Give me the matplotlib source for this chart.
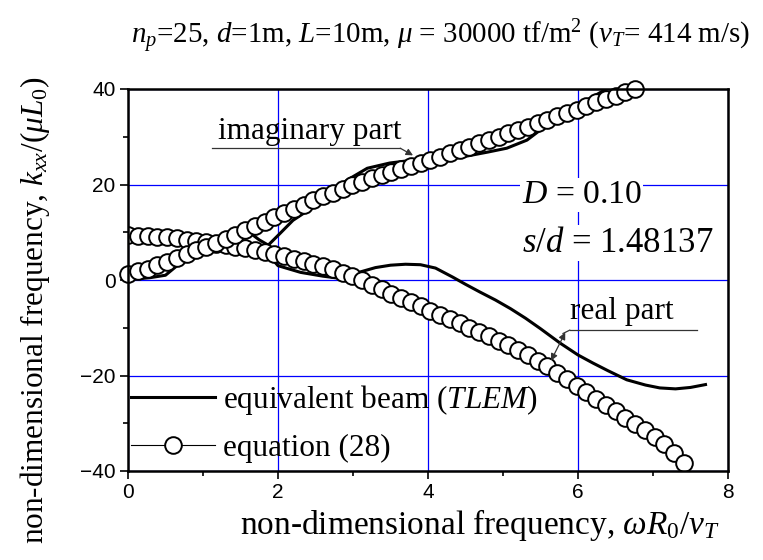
import matplotlib
matplotlib.use("Agg")
import matplotlib.pyplot as plt
from matplotlib.ticker import MultipleLocator

plt.rcParams['font.family'] = ['Liberation Serif', 'DejaVu Serif']
plt.rcParams['mathtext.fontset'] = 'custom'
plt.rcParams['mathtext.rm'] = 'Liberation Serif'
plt.rcParams['mathtext.it'] = 'Liberation Serif:italic'
plt.rcParams['mathtext.bf'] = 'Liberation Serif:bold'

# ---- data: equation (28) (circles) ----
eq_real_x = [0.00, 0.13, 0.26, 0.39, 0.52, 0.65, 0.78, 0.91, 1.04, 1.17, 1.30, 1.43,
             1.56, 1.69, 1.82, 1.95, 2.08, 2.21, 2.34, 2.47, 2.60, 2.73, 2.86, 2.99,
             3.12, 3.25, 3.38, 3.51, 3.64, 3.77, 3.90, 4.03, 4.16, 4.29, 4.42, 4.55,
             4.68, 4.81, 4.94, 5.07, 5.20, 5.33, 5.46, 5.59, 5.72, 5.85, 5.98, 6.11,
             6.24, 6.37, 6.50, 6.63, 6.76, 6.89, 7.02, 7.15, 7.28, 7.41]
eq_real_y = [9.4, 9.3, 9.2, 9.1, 9.0, 8.7, 8.45, 8.2, 7.9, 7.6, 7.3, 7.0,
             6.65, 6.25, 5.85, 5.45, 5.0, 4.5, 4.0, 3.45, 2.85, 2.2, 1.5, 0.75,
             -0.1, -1.0, -1.9, -2.85, -3.75, -4.65, -5.5, -6.4, -7.3, -8.2, -9.05, -9.95,
             -10.85, -11.8, -12.75, -13.7, -14.7, -15.8, -16.9, -18.1, -19.4, -20.8, -22.2, -23.5,
             -24.9, -26.2, -27.5, -28.8, -30.1, -31.4, -32.9, -34.4, -36.2, -38.3]

eq_imag_x = [0.00, 0.13, 0.26, 0.39, 0.52, 0.65, 0.78, 0.91, 1.04, 1.17, 1.30, 1.43,
             1.56, 1.69, 1.82, 1.95, 2.08, 2.21, 2.34, 2.47, 2.60, 2.73, 2.86, 2.99,
             3.12, 3.25, 3.38, 3.51, 3.64, 3.77, 3.90, 4.03, 4.16, 4.29, 4.42, 4.55,
             4.68, 4.81, 4.94, 5.07, 5.20, 5.33, 5.46, 5.59, 5.72, 5.85, 5.98, 6.11,
             6.24, 6.37, 6.50, 6.63, 6.76]
eq_imag_y = [1.3, 1.8, 2.4, 3.1, 3.8, 4.6, 5.4, 6.2, 7.0, 7.8, 8.6, 9.5,
             10.4, 11.3, 12.2, 13.1, 14.0, 14.9, 15.8, 16.7, 17.5, 18.3, 19.1, 19.9,
             20.6, 21.3, 22.0, 22.7, 23.3, 23.9, 24.5, 25.1, 25.8, 26.5, 27.2, 27.9,
             28.6, 29.3, 30.0, 30.7, 31.4, 32.1, 32.8, 33.5, 34.3, 35.0, 35.7, 36.4,
             37.2, 37.9, 38.6, 39.3, 40.0]

# ---- data: equivalent beam (TLEM) (solid lines) ----
beam_real_x = [0.1, 0.5, 1.0, 1.5, 1.75, 1.9, 2.0, 2.3, 2.6, 2.8, 3.0, 3.1, 3.3, 3.5,
               3.7, 3.9, 4.1, 4.33, 4.5, 4.69, 4.9, 5.1, 5.3, 5.5, 5.76, 6.0, 6.2,
               6.4, 6.65, 6.9, 7.09, 7.3, 7.5, 7.7]
beam_real_y = [9.3, 9.0, 8.0, 6.8, 5.9, 4.8, 3.0, 1.6, 0.8, 0.4, 0.9, 1.7, 2.6, 3.1,
               3.3, 3.2, 2.5, 0.6, -0.9, -2.5, -4.2, -6.0, -8.0, -10.2, -13.2, -15.7, -17.4,
               -19.0, -20.9, -22.0, -22.6, -22.8, -22.5, -21.9]

beam_imag_x = [0.1, 0.3, 0.5, 0.6, 0.7, 0.85, 1.0, 1.2, 1.4, 1.55, 1.65, 1.75, 1.87,
               2.03, 2.2, 2.47, 2.7, 2.92, 3.19, 3.49, 3.8, 4.0, 4.2, 4.4, 4.6, 4.8,
               5.05, 5.32, 5.53, 5.8, 6.0, 6.2, 6.38]
beam_imag_y = [0.2, 0.5, 1.0, 2.3, 3.6, 5.0, 6.4, 8.0, 9.6, 10.5, 9.6, 8.4, 7.3,
               9.8, 12.5, 15.3, 18.3, 20.9, 23.4, 24.5, 25.1, 25.2, 25.3, 25.6, 26.2, 26.8,
               27.6, 29.3, 31.8, 34.6, 36.6, 38.4, 40.0]

x_ticks = [0, 2, 4, 6, 8]
y_ticks = [-40, -20, 0, 20, 40]

fig = plt.figure(figsize=(7.63, 5.6), dpi=100)
ax = fig.add_axes([128/763, 1-471/560, 600/763, 382/560])

ax.plot(beam_real_x, beam_real_y, color='black', lw=2.2, zorder=3,
        label='equivalent beam ($TLEM$)')
ax.plot(beam_imag_x, beam_imag_y, color='black', lw=2.2, zorder=3)
ax.plot(eq_real_x, eq_real_y, color='black', lw=0.8, marker='o', ms=12,
        mfc='white', mec='black', mew=1.4, zorder=4, label='equation (28)')
ax.plot(eq_imag_x, eq_imag_y, color='black', lw=0.8, marker='o', ms=12,
        mfc='white', mec='black', mew=1.4, zorder=4, clip_on=False)

ax.set_xlim(0, 8)
ax.set_ylim(-40, 40)
ax.set_xticks(x_ticks)
ax.set_yticks(y_ticks)
ax.xaxis.set_minor_locator(MultipleLocator(1))
ax.yaxis.set_minor_locator(MultipleLocator(10))
ax.grid(True, which='major', color='#0000ff', lw=0.9, zorder=1)
ax.set_axisbelow(True)
ax.tick_params(which='major', direction='out', length=6, width=1.2,
               labelsize=15, pad=3)
ax.tick_params(which='minor', direction='out', length=3.5, width=1.2)
for lab in ax.get_xticklabels() + ax.get_yticklabels():
    lab.set_fontfamily('Liberation Sans')
for s in ax.spines.values():
    s.set_linewidth(1.8)
    s.set_zorder(5)

fs = 22.5
# annotations
ax.text(2.43, 31.0, 'imaginary part', fontsize=fs, ha='center', va='center', zorder=6)
ax.plot([1.12, 3.63], [27.6, 27.6], color='#333333', lw=0.9, zorder=6)
ax.annotate('', xy=(3.80, 26.1), xytext=(3.63, 27.6),
            arrowprops=dict(arrowstyle='-|>', color='#333333', lw=0.9,
                            mutation_scale=10, shrinkA=0, shrinkB=0), zorder=6)
ax.text(6.59, -6.6, 'real part', fontsize=fs, ha='center', va='center', zorder=6)
ax.plot([5.89, 7.59], [-10.5, -10.5], color='#333333', lw=0.9, zorder=6)
ax.plot([5.89, 5.80], [-10.5, -11.2], color='#333333', lw=0.9, zorder=6)
ax.annotate('', xy=(5.64, -16.9), xytext=(5.83, -11.0),
            arrowprops=dict(arrowstyle='<|-|>', color='#333333', lw=0.9,
                            mutation_scale=10, shrinkA=0, shrinkB=0), zorder=6)

bb = dict(facecolor='white', edgecolor='none', pad=1)
ax.text(5.25, 17.8, '$D$ = 0.10', fontsize=24.3, ha='left', va='center', bbox=bb, zorder=6)
ax.text(5.25, 7.7, '$s/d$ = 1.48137', fontsize=25, ha='left', va='center', bbox=bb, zorder=6)

leg = ax.legend(loc='lower left', bbox_to_anchor=(0.005, 0.02), frameon=False,
                fontsize=fs, handlelength=2.7, handletextpad=0.25,
                labelspacing=0.55, borderaxespad=0, borderpad=0)
leg.set_zorder(7)

fig.text(441/763, 1-37/560,
         '$n_p$=25, $d$=1m, $L$=10m, $\\mu$ = 30000 tf/m$^2$ ($v_T$= 414 m/s)',
         fontsize=20.9, ha='center', va='center')
fig.text(480/763, 1-525/560, 'non-dimensional frequency, $\\omega R_{\\mathit{0}}/v_T$',
         fontsize=24, ha='center', va='center')
fig.text(35/763, 1-310/560, 'non-dimensional frequency, $k_{xx}$/($\\mu L_{\\mathit{0}}$)',
         fontsize=fs, ha='center', va='center', rotation=90)

fig.savefig('out.png', dpi=100)
